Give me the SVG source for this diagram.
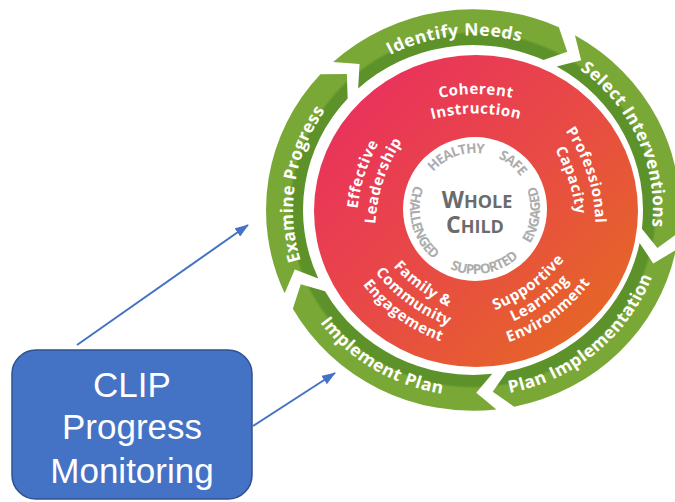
<svg xmlns="http://www.w3.org/2000/svg" width="675" height="502" viewBox="0 0 675 502">
<defs>
<style>
.lbl{font-family:"Open Sans","Liberation Sans",sans-serif;font-weight:700;fill:#fff;}
.ring{font-size:17.5px;letter-spacing:0.5px;}
.inner{font-size:15px;letter-spacing:0.5px;}
.word{font-family:"Open Sans","Liberation Sans",sans-serif;font-weight:700;font-size:13.5px;letter-spacing:-0.8px;fill:#acacac;}
.wc{font-family:"Open Sans","Liberation Sans",sans-serif;font-weight:700;fill:#6b6b6b;}
.boxt{font-family:"Liberation Sans",Arial,sans-serif;font-size:35px;fill:#fff;}
.conn{stroke:#4472c4;stroke-width:2;fill:none;marker-end:url(#ah);}
</style>
<linearGradient id="redg" gradientUnits="userSpaceOnUse" x1="340" y1="70" x2="620" y2="350">
<stop offset="0" stop-color="#ea2e60"/>
<stop offset="0.5" stop-color="#e84a45"/>
<stop offset="1" stop-color="#e56b21"/>
</linearGradient>
<radialGradient id="greeng" gradientUnits="userSpaceOnUse" cx="0" cy="0" r="207">
<stop offset="0" stop-color="#5c9229"/>
<stop offset="0.875" stop-color="#5c9229"/>
<stop offset="0.89" stop-color="#7aa836"/>
<stop offset="1" stop-color="#7aa836"/>
</radialGradient>
<path id="seg" d="M207,0 A207,207 0 0 1 80.88,190.54 L56.68,179.78 L66.42,156.49 A170,170 0 0 0 170,0 L187.63,18.07 Z" fill="url(#greeng)"/>
<path id="tp-identify" d="M-164.44,-73.21 A180,180 0 0 1 145.62,-105.80"/>
<path id="tp-select" d="M18.82,-179.01 A180,180 0 0 1 145.62,105.80"/>
<path id="tp-examine" d="M-113.28,139.89 A180,180 0 0 1 -64.51,-168.04"/>
<path id="tp-planimpl" d="M-65.67,180.42 A192,192 0 0 0 189.08,-33.34"/>
<path id="tp-implement" d="M-191.97,-3.35 A192,192 0 0 0 93.08,167.93"/>
<path id="tT116" d="M-85,-94.2 A170,170 0 0 1 85,-94.2"/>
<path id="tT98" d="M-85,-74.7 A170,170 0 0 1 85,-74.7"/>
<path id="tB97" d="M-85,74.2 A170,170 0 0 0 85,74.2"/>
<path id="tB115" d="M-85,92.2 A170,170 0 0 0 85,92.2"/>
<path id="tB133" d="M-85,110.2 A170,170 0 0 0 85,110.2"/>
<path id="cw56" d="M-56,0 A56,56 0 1 1 56,0 A56,56 0 1 1 -56,0"/>
<path id="ccw65" d="M0,-65 A65,65 0 1 0 0,65 A65,65 0 1 0 0,-65"/>
<marker id="ah" markerUnits="userSpaceOnUse" markerWidth="14" markerHeight="10" refX="13" refY="5" orient="auto"><path d="M0,0 L14,5 L0,10 Z" fill="#4472c4"/></marker>
</defs>
<rect width="675" height="502" fill="#fff"/>

<g id="cycle" transform="translate(473,210) scale(1,0.97)">
<g id="seg-identify"><use href="#seg" transform="rotate(-132.5)"/><text class="lbl ring" text-anchor="middle"><textPath href="#tp-identify" startOffset="50%">Identify Needs</textPath></text></g>
<g id="seg-select"><use href="#seg" transform="rotate(-60.5)"/><text class="lbl ring" text-anchor="middle"><textPath href="#tp-select" startOffset="50%">Select Interventions</textPath></text></g>
<g id="seg-planimpl"><use href="#seg" transform="rotate(11.5)"/><text class="lbl ring" text-anchor="middle"><textPath href="#tp-planimpl" startOffset="50%">Plan Implementation</textPath></text></g>
<g id="seg-implement"><use href="#seg" transform="rotate(83.5)"/><text class="lbl ring" text-anchor="middle"><textPath href="#tp-implement" startOffset="50%">Implement Plan</textPath></text></g>
<g id="seg-examine"><use href="#seg" transform="rotate(155.5)"/><text class="lbl ring" text-anchor="middle"><textPath href="#tp-examine" startOffset="50%">Examine Progress</textPath></text></g>
</g>

<g id="core">
<ellipse cx="476" cy="211" rx="162" ry="156" fill="url(#redg)"/>
<g id="coherent" transform="translate(476,211)">
<text class="lbl inner" text-anchor="middle"><textPath href="#tT116" startOffset="50%">Coherent</textPath></text>
<text class="lbl inner" text-anchor="middle"><textPath href="#tT98" startOffset="50%">Instruction</textPath></text>
</g>
<g id="professional" transform="translate(476,211) rotate(72)">
<text class="lbl inner" text-anchor="middle"><textPath href="#tT116" startOffset="50%">Professional</textPath></text>
<text class="lbl inner" text-anchor="middle"><textPath href="#tT98" startOffset="50%">Capacity</textPath></text>
</g>
<g id="effective" transform="translate(476,211) rotate(-72)">
<text class="lbl inner" text-anchor="middle"><textPath href="#tT116" startOffset="50%">Effective</textPath></text>
<text class="lbl inner" text-anchor="middle"><textPath href="#tT98" startOffset="50%">Leadership</textPath></text>
</g>
<g id="supportive" transform="translate(476,211) rotate(-36)">
<text class="lbl inner" text-anchor="middle"><textPath href="#tB97" startOffset="50%">Supportive</textPath></text>
<text class="lbl inner" text-anchor="middle"><textPath href="#tB115" startOffset="50%">Learning</textPath></text>
<text class="lbl inner" text-anchor="middle"><textPath href="#tB133" startOffset="50%">Environment</textPath></text>
</g>
<g id="family" transform="translate(476,211) rotate(36)">
<text class="lbl inner" text-anchor="middle"><textPath href="#tB97" startOffset="50%">Family &amp;</textPath></text>
<text class="lbl inner" text-anchor="middle"><textPath href="#tB115" startOffset="50%">Community</textPath></text>
<text class="lbl inner" text-anchor="middle"><textPath href="#tB133" startOffset="50%">Engagement</textPath></text>
</g>
</g>

<g id="whole-child">
<circle cx="475" cy="209" r="72" fill="#fff"/>
<g transform="translate(475,209)">
<text class="word" text-anchor="middle"><textPath href="#cw56" startOffset="68.4">HEALTHY</textPath></text>
<text class="word" text-anchor="middle"><textPath href="#cw56" startOffset="126.1">SAFE</textPath></text>
<text class="word" text-anchor="middle"><textPath href="#ccw65" startOffset="118">CHALLENGED</textPath></text>
<text class="word" text-anchor="middle"><textPath href="#ccw65" startOffset="214.4">SUPPORTED</textPath></text>
<text class="word" text-anchor="middle"><textPath href="#ccw65" startOffset="298.9">ENGAGED</textPath></text>
</g>
<text class="wc" x="477" y="208" text-anchor="middle"><tspan font-size="23">W</tspan><tspan font-size="18">HOLE</tspan></text>
<text class="wc" x="475" y="233" text-anchor="middle"><tspan font-size="23">C</tspan><tspan font-size="18">HILD</tspan></text>
</g>

<g id="connectors">
<line class="conn" x1="77" y1="345" x2="248" y2="225"/>
<line class="conn" x1="253" y1="426" x2="335" y2="373"/>
</g>

<g id="clip-box">
<rect x="12" y="350" width="240" height="149" rx="24" fill="#4472c4" stroke="#2f528f" stroke-width="1.5"/>
<text class="boxt" x="132" y="397" text-anchor="middle">CLIP</text>
<text class="boxt" x="132" y="439" text-anchor="middle">Progress</text>
<text class="boxt" x="132" y="483" text-anchor="middle">Monitoring</text>
</g>
</svg>
